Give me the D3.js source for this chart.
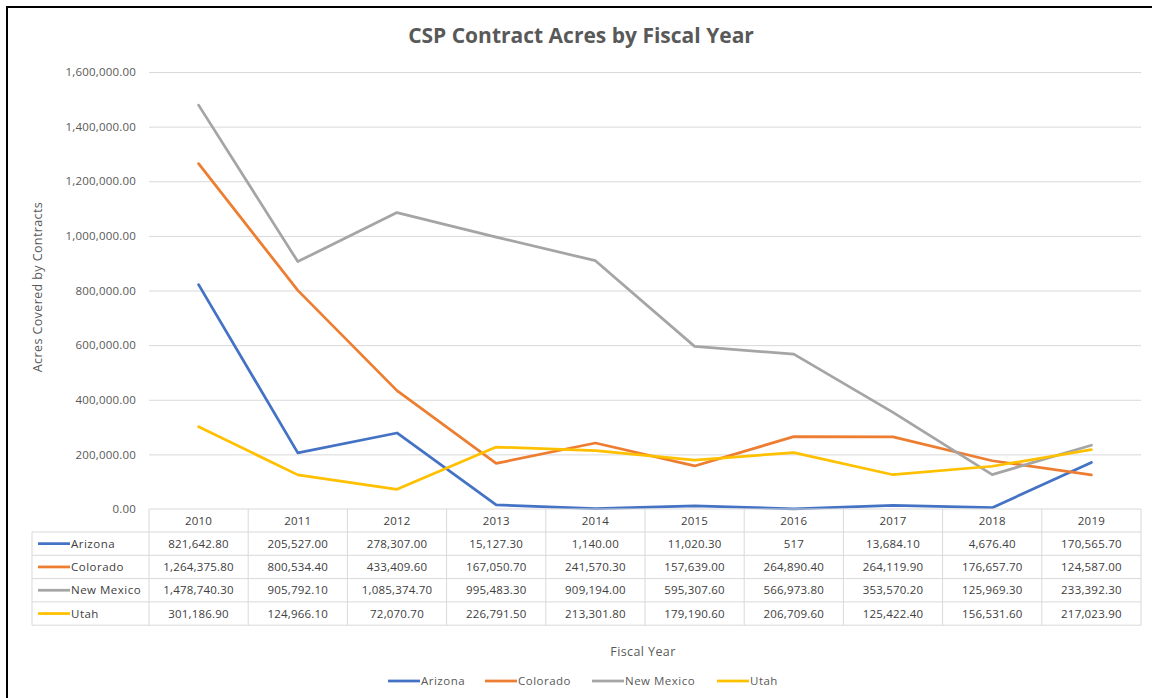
<!DOCTYPE html>
<html><head><meta charset="utf-8">
<script src="https://cdnjs.cloudflare.com/ajax/libs/d3/7.8.5/d3.min.js"></script>
<style>body{margin:0;background:#fff;}svg{display:block;font-family:"Open Sans",sans-serif;}</style>
</head><body><svg id="c" width="1152" height="698"></svg>
<script>
const years = ["2010","2011","2012","2013","2014","2015","2016","2017","2018","2019"];
const seriesNames = ["Arizona","Colorado","New Mexico","Utah"];
const arizona   = [821642.8, 205527.0, 278307.0, 15127.3, 1140.0, 11020.3, 517, 13684.1, 4676.4, 170565.7];
const colorado  = [1264375.8, 800534.4, 433409.6, 167050.7, 241570.3, 157639.0, 264890.4, 264119.9, 176657.7, 124587.0];
const newMexico = [1478740.3, 905792.1, 1085374.7, 995483.3, 909194.0, 595307.6, 566973.8, 353570.2, 125969.3, 233392.3];
const utah      = [301186.9, 124966.1, 72070.7, 226791.5, 213301.8, 179190.6, 206709.6, 125422.4, 156531.6, 217023.9];
const yTicks = [0, 200000, 400000, 600000, 800000, 1000000, 1200000, 1400000, 1600000];
const colors = ["#4472C4","#ED7D31","#A5A5A5","#FFC000"];
const textOverrides = {"Arizona|2016":"517"};

const seriesValues = [arizona, colorado, newMexico, utah];
const series = seriesNames.map((n,i)=>({name:n, values:seriesValues[i], color:colors[i]}));

const svg = d3.select("#c");
const txt = "#595959", grid = "#D9D9D9", cellTxt = "#404040";

// outer frame
svg.append("line").attr("x1",6).attr("x2",1152).attr("y1",7).attr("y2",7).attr("stroke","#000").attr("stroke-width",2);
svg.append("line").attr("x1",7).attr("x2",7).attr("y1",6).attr("y2",698).attr("stroke","#000").attr("stroke-width",2);

const x = d3.scaleBand().domain(years).range([149,1141]).padding(0);
const y = d3.scaleLinear().domain([0,1600000]).range([509,72]);
const fmt = d3.format(",.2f");

// title
svg.append("text").attr("x",581).attr("y",43).attr("text-anchor","middle")
  .attr("font-size",21).attr("font-weight","bold").attr("fill",txt).text("CSP Contract Acres by Fiscal Year");

// grid
const yAxis = d3.axisLeft(y).tickValues(yTicks).tickFormat(fmt).tickSize(-(1141-149)).tickPadding(13);
const gy = svg.append("g").attr("transform","translate(149,0)").call(yAxis);
gy.select(".domain").remove();
gy.selectAll(".tick line").attr("stroke",grid).attr("stroke-width",1);
gy.selectAll(".tick").filter(d=>d===0).select("line").remove();
gy.selectAll(".tick text").attr("fill",txt).attr("font-size",11.5).attr("letter-spacing",0.2)
  .attr("font-family","'Open Sans',sans-serif");

// y title
svg.append("text").attr("transform","translate(42,287) rotate(-90)").attr("text-anchor","middle")
  .attr("font-size",12.5).attr("letter-spacing",0.4).attr("fill",txt).text("Acres Covered by Contracts");

// lines
const line = d3.line().x((d,i)=>x(years[i])+x.bandwidth()/2).y(d=>y(d));
svg.append("g").selectAll("path").data(series).join("path")
  .attr("d",d=>line(d.values)).attr("fill","none").attr("stroke",d=>d.color)
  .attr("stroke-width",2.75).attr("stroke-linejoin","round").attr("stroke-linecap","round");

// data table
const tTop = 509, hdrH = 23, rowH = 23.3, tLeft = 32, tRight = 1141;
const tg = svg.append("g");
const tBottom = tTop + hdrH + rowH*series.length;
tg.append("line").attr("x1",149).attr("x2",tRight).attr("y1",tTop).attr("y2",tTop).attr("stroke",grid);
for(let r=0;r<=series.length;r++){
  const yy = tTop+hdrH+rowH*r;
  tg.append("line").attr("x1",tLeft).attr("x2",tRight).attr("y1",yy).attr("y2",yy).attr("stroke",grid);
}
tg.append("line").attr("x1",tLeft).attr("x2",tLeft).attr("y1",tTop+hdrH).attr("y2",tBottom).attr("stroke",grid);
[...years.map(v=>x(v)), tRight].forEach(xx=>{
  tg.append("line").attr("x1",xx).attr("x2",xx).attr("y1",tTop).attr("y2",tBottom).attr("stroke",grid);
});
tg.selectAll("text.hdr").data(years).join("text").attr("class","hdr")
  .attr("x",d=>x(d)+x.bandwidth()/2).attr("y",tTop+hdrH/2+4).attr("text-anchor","middle")
  .attr("font-size",11.5).attr("letter-spacing",0.2).attr("fill",cellTxt).text(d=>d);
series.forEach((s,r)=>{
  const cy = tTop+hdrH+rowH*r+rowH/2;
  tg.append("line").attr("x1",38).attr("x2",70).attr("y1",cy).attr("y2",cy).attr("stroke",s.color).attr("stroke-width",2.75);
  tg.append("text").attr("x",71).attr("y",cy+4).attr("font-size",11.5).attr("letter-spacing",0.5).attr("fill",cellTxt).text(s.name);
  tg.selectAll(null).data(s.values).join("text")
    .attr("x",(d,i)=>x(years[i])+x.bandwidth()/2).attr("y",cy+4).attr("text-anchor","middle")
    .attr("font-size",11.5).attr("letter-spacing",0.2).attr("fill",cellTxt)
    .text((d,i)=>textOverrides[s.name+"|"+years[i]] || fmt(d));
});

// x title
svg.append("text").attr("x",643).attr("y",656).attr("text-anchor","middle")
  .attr("font-size",12.5).attr("letter-spacing",0.4).attr("fill",txt).text("Fiscal Year");

// legend
const legX = [388,485,592,717];
series.forEach((s,i)=>{
  svg.append("line").attr("x1",legX[i]).attr("x2",legX[i]+32).attr("y1",681).attr("y2",681).attr("stroke",s.color).attr("stroke-width",2.75);
  svg.append("text").attr("x",legX[i]+33).attr("y",685).attr("font-size",11.5).attr("letter-spacing",0.5).attr("fill",txt).text(s.name);
});
</script></body></html>
